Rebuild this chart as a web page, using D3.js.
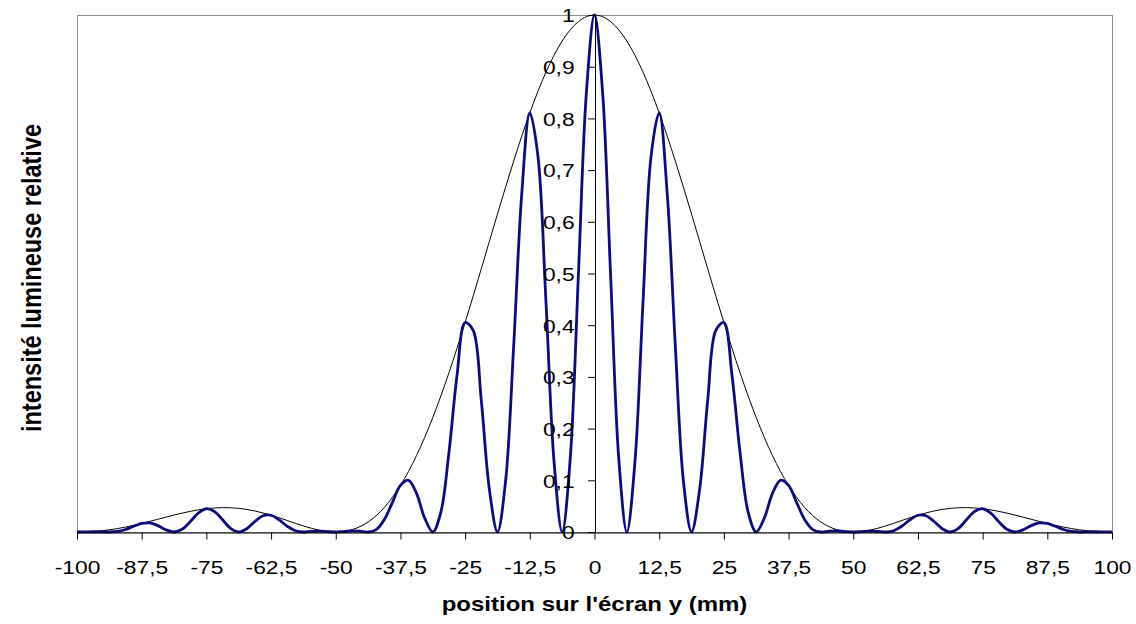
<!DOCTYPE html>
<html>
<head>
<meta charset="utf-8">
<script src="https://cdn.jsdelivr.net/npm/d3@7"></script>
<style>
  body { margin: 0; background: #fff; }
  svg { display: block; font-family: "Liberation Sans", Arial, sans-serif; }
</style>
</head>
<body>
<svg id="chart" width="1136" height="624"></svg>
<script>
/*################
Data
################*/
const positions = [
  -100, -98.4375, -96.875, -95.3125, -93.75, -92.1875, -90.625, -89.0625,
  -87.5, -85.9375, -84.375, -82.8125, -81.25, -79.6875, -78.125, -76.5625,
  -75, -73.4375, -71.875, -70.3125, -68.75, -67.1875, -65.625, -64.0625,
  -62.5, -60.9375, -59.375, -57.8125, -56.25, -54.6875, -53.125, -51.5625,
  -50, -48.4375, -46.875, -45.3125, -43.75, -42.1875, -40.625, -39.0625,
  -37.5, -35.9375, -34.375, -32.8125, -31.25, -29.6875, -28.125, -26.5625,
  -25, -23.4375, -21.875, -20.3125, -18.75, -17.1875, -15.625, -14.0625,
  -12.5, -10.9375, -9.375, -7.8125, -6.25, -4.6875, -3.125, -1.5625,
  0,
  1.5625, 3.125, 4.6875, 6.25, 7.8125, 9.375, 10.9375, 12.5,
  14.0625, 15.625, 17.1875, 18.75, 20.3125, 21.875, 23.4375, 25,
  26.5625, 28.125, 29.6875, 31.25, 32.8125, 34.375, 35.9375, 37.5,
  39.0625, 40.625, 42.1875, 43.75, 45.3125, 46.875, 48.4375, 50,
  51.5625, 53.125, 54.6875, 56.25, 57.8125, 59.375, 60.9375, 62.5,
  64.0625, 65.625, 67.1875, 68.75, 70.3125, 71.875, 73.4375, 75,
  76.5625, 78.125, 79.6875, 81.25, 82.8125, 84.375, 85.9375, 87.5,
  89.0625, 90.625, 92.1875, 93.75, 95.3125, 96.875, 98.4375, 100
];

// interference pattern (blue)
const intensity = [
  0, 0.0002, 0.0005, 0.0003, 0, 0.0010, 0.0048, 0.0110,
  0.0165, 0.0175, 0.0123, 0.0042, 0, 0.0053, 0.0200, 0.0365,
  0.0450, 0.0397, 0.0236, 0.0069, 0, 0.0064, 0.0203, 0.0315,
  0.0324, 0.0234, 0.0111, 0.0025, 0, 0.0010, 0.0017, 0.0008,
  0, 0.0009, 0.0022, 0.0015, 0, 0.0046, 0.0237, 0.0570,
  0.0901, 0.1000, 0.0741, 0.0268, 0, 0.0385, 0.1540, 0.3035,
  0.4053, 0.3898, 0.2546, 0.0823, 0, 0.0977, 0.3586, 0.6533,
  0.8106, 0.7274, 0.4448, 0.1351, 0, 0.1423, 0.4936, 0.8508,
  1,
  0.8508, 0.4936, 0.1423, 0, 0.1351, 0.4448, 0.7274, 0.8106,
  0.6533, 0.3586, 0.0977, 0, 0.0823, 0.2546, 0.3898, 0.4053,
  0.3035, 0.1540, 0.0385, 0, 0.0268, 0.0741, 0.1000, 0.0901,
  0.0570, 0.0237, 0.0046, 0, 0.0015, 0.0022, 0.0009, 0,
  0.0008, 0.0017, 0.0010, 0, 0.0025, 0.0111, 0.0234, 0.0324,
  0.0315, 0.0203, 0.0064, 0, 0.0069, 0.0236, 0.0397, 0.0450,
  0.0365, 0.0200, 0.0053, 0, 0.0042, 0.0123, 0.0175, 0.0165,
  0.0110, 0.0048, 0.0010, 0, 0.0003, 0.0005, 0.0002, 0
];

// diffraction envelope (thin black)
const envelope = [
  0, 0.0003, 0.0010, 0.0024, 0.0042, 0.0066, 0.0095, 0.0129,
  0.0165, 0.0205, 0.0246, 0.0287, 0.0328, 0.0365, 0.0399, 0.0428,
  0.0450, 0.0465, 0.0472, 0.0469, 0.0457, 0.0436, 0.0407, 0.0369,
  0.0324, 0.0275, 0.0222, 0.0168, 0.0117, 0.0071, 0.0034, 0.0009,
  0, 0.0010, 0.0044, 0.0104, 0.0194, 0.0316, 0.0474, 0.0668,
  0.0901, 0.1172, 0.1482, 0.1830, 0.2214, 0.2632, 0.3080, 0.3556,
  0.4053, 0.4567, 0.5092, 0.5622, 0.6150, 0.6669, 0.7173, 0.7654,
  0.8106, 0.8522, 0.8896, 0.9222, 0.9496, 0.9714, 0.9872, 0.9968,
  1,
  0.9968, 0.9872, 0.9714, 0.9496, 0.9222, 0.8896, 0.8522, 0.8106,
  0.7654, 0.7173, 0.6669, 0.6150, 0.5622, 0.5092, 0.4567, 0.4053,
  0.3556, 0.3080, 0.2632, 0.2214, 0.1830, 0.1482, 0.1172, 0.0901,
  0.0668, 0.0474, 0.0316, 0.0194, 0.0104, 0.0044, 0.0010, 0,
  0.0009, 0.0034, 0.0071, 0.0117, 0.0168, 0.0222, 0.0275, 0.0324,
  0.0369, 0.0407, 0.0436, 0.0457, 0.0469, 0.0472, 0.0465, 0.0450,
  0.0428, 0.0399, 0.0365, 0.0328, 0.0287, 0.0246, 0.0205, 0.0165,
  0.0129, 0.0095, 0.0066, 0.0042, 0.0024, 0.0010, 0.0003, 0
];

const xTicks = [-100, -87.5, -75, -62.5, -50, -37.5, -25, -12.5, 0, 12.5, 25, 37.5, 50, 62.5, 75, 87.5, 100];
const yTicks = [0, 0.1, 0.2, 0.3, 0.4, 0.5, 0.6, 0.7, 0.8, 0.9, 1];

const xTitle = "position sur l'écran y (mm)";
const yTitle = 'intensité lumineuse relative';

/*################
Scales
################*/
const plotLeft = 77, plotRight = 1112, plotTop = 15, plotBottom = 532;
const stretch = 'scale(1.2,1)'; // the picture's text is wider than it is tall

const x = d3.scaleLinear().domain([-100, 100]).range([plotLeft, plotRight]);
const y = d3.scaleLinear().domain([0, 1]).range([plotBottom, plotTop]);

const svg = d3.select('#chart');
const comma = d => String(d).replace('.', ',');

// plot area frame
svg.append('rect')
    .attr('x', plotLeft + 0.5)
    .attr('y', plotTop + 0.5)
    .attr('width', plotRight - plotLeft)
    .attr('height', plotBottom - plotTop)
    .attr('fill', 'none')
    .attr('stroke', '#8c8c8c');

/*################
Curves
################*/
const points = series => positions.map((p, i) => [p, series[i]]);
const line = d3.line()
    .x(d => x(d[0]))
    .y(d => y(d[1]))
    .curve(d3.curveCatmullRom);

svg.append('path')
    .datum(points(envelope))
    .attr('d', line)
    .attr('fill', 'none')
    .attr('stroke', '#000')
    .attr('stroke-width', 1);

svg.append('path')
    .datum(points(intensity))
    .attr('d', line)
    .attr('fill', 'none')
    .attr('stroke', '#0c0c7a')
    .attr('stroke-width', 2.8)
    .attr('stroke-linejoin', 'round');

/*################
Axes
################*/
const xAxis = svg.append('g')
    .attr('transform', `translate(0,${plotBottom + 0.5})`)
    .call(d3.axisBottom(x).tickValues(xTicks).tickSize(7).tickSizeOuter(0).tickFormat(comma));

xAxis.selectAll('text')
    .attr('y', 42)
    .attr('dy', 0)
    .attr('transform', stretch)
    .style('font-size', '19px')
    .attr('fill', '#000');

const yAxis = svg.append('g')
    .attr('transform', `translate(${x(0) + 0.5},0)`)
    .call(d3.axisLeft(y).tickValues(yTicks).tickSize(7).tickSizeOuter(0).tickFormat(comma));

yAxis.selectAll('text')
    .attr('x', -17)
    .attr('dy', '0.36em')
    .attr('transform', stretch)
    .style('font-size', '19px')
    .attr('fill', '#000');

svg.selectAll('.domain, .tick line').attr('stroke', '#000');

// titles
svg.append('text')
    .attr('transform', `translate(${x(0)},611) ${stretch}`)
    .attr('text-anchor', 'middle')
    .style('font-size', '20px')
    .style('font-weight', 'bold')
    .text(xTitle);

svg.append('text')
    .attr('transform', `translate(41,278) ${stretch} rotate(-90)`)
    .attr('text-anchor', 'middle')
    .style('font-size', '23.5px')
    .style('font-weight', 'bold')
    .text(yTitle);
</script>
</body>
</html>
